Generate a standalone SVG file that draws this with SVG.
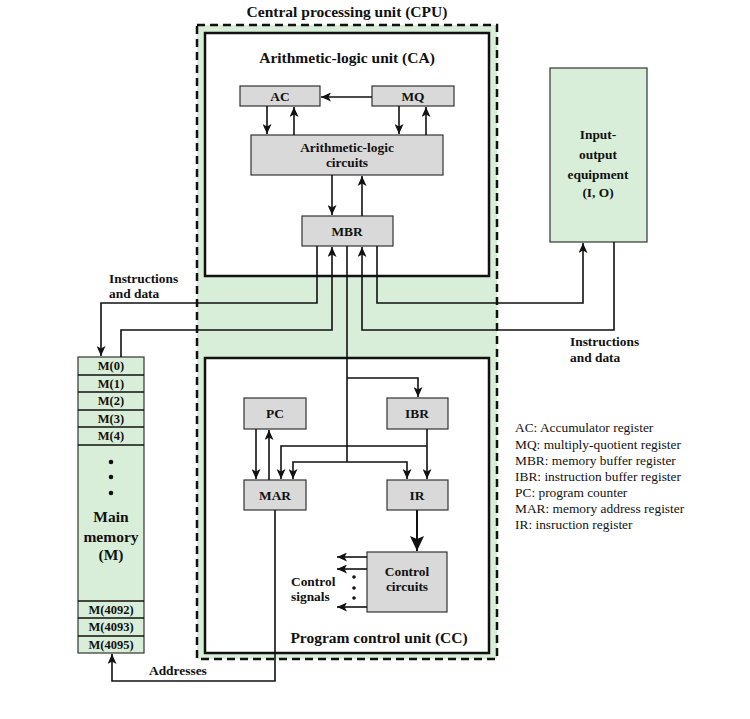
<svg xmlns="http://www.w3.org/2000/svg" width="750" height="719" viewBox="0 0 750 719">
<defs>
<style>
.t{font-family:"Liberation Serif","Times New Roman",serif;fill:#111;}
.b{font-weight:bold;}
.big{font-size:15.5px;}
.lab{font-size:13.4px;}
.mem{font-size:12.5px;}
.leg{font-size:13.4px;}
.reg{fill:#d9d9d9;stroke:#333;stroke-width:1.2;}
.grn{fill:#d8eed8;stroke:#333;stroke-width:1.2;}
.unit{fill:#fff;stroke:#111;stroke-width:2.5;}
.c{fill:none;stroke:#111;stroke-width:1.6;}
.ca{fill:none;stroke:#111;stroke-width:1.6;marker-end:url(#ah);}
</style>
<marker id="ah" markerUnits="userSpaceOnUse" markerWidth="11" markerHeight="9" refX="10" refY="4.5" orient="auto">
<path d="M0,0 L10,4.5 L0,9 L2.5,4.5 z" fill="#111"/>
</marker>
<marker id="ahb" markerUnits="userSpaceOnUse" markerWidth="16" markerHeight="14" refX="15" refY="7" orient="auto">
<path d="M0,0 L15,7 L0,14 L3,7 z" fill="#111"/>
</marker>
</defs>
<rect width="750" height="719" fill="#fff"/>

<g id="cpu">
<rect x="197" y="25" width="300" height="634" fill="#d8eed8" stroke="#111" stroke-width="2.5" stroke-dasharray="8,5"/>
<text class="t b big" x="347" y="17" text-anchor="middle">Central processing unit (CPU)</text>
</g>

<g id="alu">
<rect class="unit" x="205" y="33" width="284" height="243"/>
<text class="t b big" x="347" y="63" text-anchor="middle">Arithmetic-logic unit (CA)</text>
</g>

<g id="pcu">
<rect class="unit" x="205" y="358" width="284" height="295"/>
<text class="t b big" x="379" y="643" text-anchor="middle">Program control unit (CC)</text>
</g>

<g id="ac"><rect class="reg" x="240" y="86" width="80" height="20"/><text class="t b lab" x="280" y="101" text-anchor="middle">AC</text></g>
<g id="mq"><rect class="reg" x="372" y="86" width="82" height="20"/><text class="t b lab" x="413" y="101" text-anchor="middle">MQ</text></g>
<g id="alc"><rect class="reg" x="251" y="135" width="192" height="40"/><text class="t b lab" x="347" y="152" text-anchor="middle">Arithmetic-logic</text><text class="t b lab" x="347" y="167" text-anchor="middle">circuits</text></g>
<g id="mbr"><rect class="reg" x="302" y="216" width="91" height="30"/><text class="t b lab" x="347" y="236" text-anchor="middle">MBR</text></g>
<g id="pc"><rect class="reg" x="244" y="398" width="62" height="31"/><text class="t b lab" x="275" y="418" text-anchor="middle">PC</text></g>
<g id="ibr"><rect class="reg" x="387" y="398" width="61" height="31"/><text class="t b lab" x="417" y="418" text-anchor="middle">IBR</text></g>
<g id="mar"><rect class="reg" x="244" y="480" width="62" height="30"/><text class="t b lab" x="275" y="500" text-anchor="middle">MAR</text></g>
<g id="ir"><rect class="reg" x="387" y="480" width="61" height="30"/><text class="t b lab" x="417" y="500" text-anchor="middle">IR</text></g>
<g id="cc"><rect class="reg" x="367" y="552" width="80" height="60"/><text class="t b lab" x="407" y="576" text-anchor="middle">Control</text><text class="t b lab" x="407" y="591" text-anchor="middle">circuits</text></g>

<g id="io"><rect class="grn" x="550" y="68" width="97" height="174"/>
<text class="t b lab" x="598" y="139" text-anchor="middle">Input-</text>
<text class="t b lab" x="598" y="159" text-anchor="middle">output</text>
<text class="t b lab" x="598" y="179" text-anchor="middle">equipment</text>
<text class="t b lab" x="598" y="197" text-anchor="middle">(I, O)</text>
</g>

<g id="memory">
<rect class="grn" x="78" y="357" width="66" height="296"/>
<g class="c"><path d="M78,375H144M78,392H144M78,410H144M78,427H144M78,445H144M78,601H144M78,618H144M78,636H144"/></g>
<text class="t b mem" x="111" y="370" text-anchor="middle">M(0)</text>
<text class="t b mem" x="111" y="388" text-anchor="middle">M(1)</text>
<text class="t b mem" x="111" y="405" text-anchor="middle">M(2)</text>
<text class="t b mem" x="111" y="423" text-anchor="middle">M(3)</text>
<text class="t b mem" x="111" y="440" text-anchor="middle">M(4)</text>
<circle cx="111" cy="462" r="2.3" fill="#111"/>
<circle cx="111" cy="477" r="2.3" fill="#111"/>
<circle cx="111" cy="493" r="2.3" fill="#111"/>
<text class="t b big" x="111" y="522" text-anchor="middle">Main</text>
<text class="t b big" x="111" y="542" text-anchor="middle">memory</text>
<text class="t b big" x="111" y="560" text-anchor="middle">(M)</text>
<text class="t b mem" x="111" y="614" text-anchor="middle">M(4092)</text>
<text class="t b mem" x="111" y="631" text-anchor="middle">M(4093)</text>
<text class="t b mem" x="111" y="649" text-anchor="middle">M(4095)</text>
</g>

<g id="connectors">
<path class="ca" d="M372,97H321"/>
<path class="ca" d="M267,106V134"/>
<path class="ca" d="M294,135V107"/>
<path class="ca" d="M399,106V134"/>
<path class="ca" d="M426,135V107"/>
<path class="ca" d="M332,175V215"/>
<path class="ca" d="M362,216V176"/>
<path class="ca" d="M317,246V303H101V356"/>
<path class="ca" d="M121,357V330H332V247"/>
<path class="c" d="M347,246V462"/>
<path class="ca" d="M614,242V330H362V247"/>
<path class="ca" d="M377,246V303H583V243"/>
<path class="ca" d="M347,378H418V397"/>
<path class="ca" d="M347,462H293V479"/>
<path class="ca" d="M347,462H407V479"/>
<path class="ca" d="M427,429V479"/>
<path class="ca" d="M427,446H281V479"/>
<path class="ca" d="M256,429V479"/>
<path class="ca" d="M269,480V430"/>
<path class="ca" d="M275,510V681H112V654"/>
<path fill="none" stroke="#111" stroke-width="2" marker-end="url(#ahb)" d="M417,510V551"/>
<path class="ca" d="M367,557H337"/>
<path class="ca" d="M367,569H337"/>
<path class="ca" d="M367,607H337"/>
<circle cx="354" cy="577" r="1.8" fill="#111"/>
<circle cx="354" cy="588" r="1.8" fill="#111"/>
<circle cx="354" cy="598" r="1.8" fill="#111"/>
</g>

<g id="labels">
<text class="t b lab" x="109" y="283">Instructions</text>
<text class="t b lab" x="109" y="298">and data</text>
<text class="t b lab" x="570" y="346">Instructions</text>
<text class="t b lab" x="570" y="362">and data</text>
<text class="t b lab" x="291" y="586">Control</text>
<text class="t b lab" x="291" y="601">signals</text>
<text class="t b lab" x="149" y="675">Addresses</text>
</g>

<g id="legend">
<text class="t leg" x="515" y="432">AC: Accumulator register</text>
<text class="t leg" x="515" y="449">MQ: multiply-quotient register</text>
<text class="t leg" x="515" y="465">MBR: memory buffer register</text>
<text class="t leg" x="515" y="481">IBR: instruction buffer register</text>
<text class="t leg" x="515" y="497">PC: program counter</text>
<text class="t leg" x="515" y="513">MAR: memory address register</text>
<text class="t leg" x="515" y="529">IR: insruction register</text>
</g>
</svg>
